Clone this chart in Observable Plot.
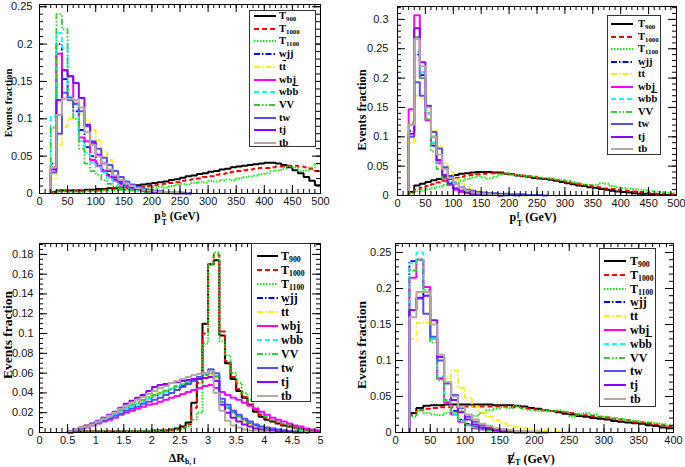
<!DOCTYPE html>
<html>
<head>
<meta charset="utf-8">
<script src="https://cdn.jsdelivr.net/npm/d3@7"></script>
<script src="https://cdn.jsdelivr.net/npm/@observablehq/plot@0.6"></script>
<style>
html,body{margin:0;padding:0;background:#fff;}
#root{position:relative;width:685px;height:467px;overflow:hidden;font-family:"Liberation Serif","Times New Roman",serif;color:#000;}
.lg{position:absolute;background:#fff;border:1px solid #333;box-sizing:border-box;}
.lg .row{position:absolute;left:0;right:0;height:14px;}
.lg .row svg{position:absolute;top:0;}
.lg .row span.t{position:absolute;top:0;line-height:14px;font-weight:bold;white-space:nowrap;}
sub{font-size:65%;vertical-align:-0.3em;line-height:0;}
.ov{text-decoration:overline;}
.yt{position:absolute;font-weight:bold;white-space:nowrap;transform:translate(-50%,-50%) rotate(-90deg);}
.xt{position:absolute;font-weight:bold;white-space:nowrap;transform:translate(-50%,-50%);line-height:1;}
.ss{display:inline-flex;flex-direction:column;font-size:65%;line-height:1;vertical-align:0.35em;margin-left:1px;}
.slash{position:relative;display:inline-block;}
.slash i{position:absolute;left:45%;top:-1px;width:1.4px;height:1.1em;background:#000;transform:rotate(22deg);}
</style>
</head>
<body>
<div id="root"></div>
<script>
// ---------------- series (legend order) ----------------
const names = ["T900","T1000","T1100","wjj","tt","wbj","wbb","VV","tw","tj","tb"];
const legendLabels = ["T<sub>900</sub>","T<sub>1000</sub>","T<sub>1100</sub>","wjj","t<span class='ov'>t</span>","wbj","wb<span class='ov'>b</span>","VV","tw","tj","tb"];

// ---------------- panel 1 : pT of b (start 20 GeV, bin 10 GeV) ----------------
const p1Start = 20, p1Bin = 10;
const p1_T900 = [0.002,0.004,0.004,0.004,0.004,0.004,0.005,0.005,0.006,0.006,0.007,0.007,0.008,0.009,0.010,0.011,0.012,0.013,0.014,0.015,0.016,0.018,0.019,0.021,0.023,0.024,0.026,0.027,0.029,0.030,0.032,0.033,0.035,0.036,0.037,0.038,0.039,0.040,0.041,0.041,0.040,0.038,0.035,0.031,0.027,0.022,0.017,0.011];
const p1_T1000 = [0.002,0.003,0.003,0.003,0.003,0.003,0.004,0.004,0.004,0.005,0.005,0.006,0.006,0.007,0.008,0.008,0.009,0.010,0.011,0.012,0.013,0.014,0.015,0.017,0.018,0.019,0.020,0.022,0.023,0.025,0.026,0.027,0.029,0.030,0.031,0.032,0.033,0.034,0.034,0.035,0.036,0.036,0.037,0.037,0.036,0.035,0.033,0.030];
const p1_T1100 = [0.001,0.003,0.003,0.002,0.003,0.002,0.003,0.003,0.003,0.004,0.004,0.004,0.005,0.005,0.006,0.006,0.006,0.007,0.008,0.009,0.008,0.010,0.012,0.013,0.012,0.014,0.016,0.015,0.017,0.016,0.018,0.019,0.018,0.020,0.022,0.023,0.024,0.026,0.027,0.030,0.031,0.033,0.036,0.035,0.030,0.031,0.035,0.040];
const p1_wjj = [0.040,0.200,0.153,0.128,0.110,0.085,0.062,0.050,0.040,0.032,0.025,0.019,0.014,0.010,0.008,0.006,0.004,0.003,0.002,0.002,0.001,0.001,0.001,0.001,0];
const p1_tt = [0.020,0.065,0.089,0.100,0.101,0.106,0.098,0.085,0.071,0.056,0.045,0.031,0.022,0.015,0.010,0.007,0.005,0.004,0.003,0.002,0.002,0.001,0.001,0.001,0];
const p1_wbj = [0.035,0.187,0.165,0.157,0.120,0.075,0.070,0.045,0.037,0.030,0.022,0.017,0.012,0.009,0.006,0.005,0.004,0.003,0.002,0.002,0.001,0.001,0.001,0];
const p1_wbb = [0.103,0.215,0.195,0.130,0.120,0.070,0.055,0.042,0.035,0.028,0.021,0.016,0.012,0.009,0.006,0.005,0.004,0.003,0.002,0.002,0.001,0.001,0.001,0];
const p1_VV = [0.088,0.240,0.220,0.125,0.100,0.060,0.040,0.030,0.025,0.018,0.013,0.010,0.007,0.005,0.004,0.003,0.002,0.002,0.001,0.001,0.001,0];
const p1_tw = [0.028,0.080,0.135,0.125,0.120,0.110,0.090,0.070,0.060,0.048,0.038,0.030,0.022,0.016,0.012,0.009,0.006,0.005,0.004,0.003,0.002,0.001,0.001,0.001,0];
const p1_tj = [0.032,0.125,0.165,0.157,0.148,0.128,0.092,0.068,0.052,0.040,0.030,0.022,0.016,0.012,0.008,0.006,0.004,0.003,0.002,0.002,0.001,0.001,0];
const p1_tb = [0.035,0.105,0.127,0.127,0.125,0.115,0.082,0.065,0.050,0.040,0.032,0.024,0.018,0.013,0.010,0.007,0.005,0.004,0.003,0.002,0.002,0.001,0.001,0];
const p1XTicks = [0,50,100,150,200,250,300,350,400,450,500];
const p1XLabels = ["0","50","100","150","200","250","300","350","400","450","500"];
const p1YTicks = [0,0.05,0.1,0.15,0.2,0.25];
const p1YLabels = ["0","0.05","0.1","0.15","0.2","0.25"];

// ---------------- panel 2 : pT of lepton ----------------
const p2Start = 20, p2Bin = 10;
const p2_T900 = [0.006,0.017,0.020,0.023,0.026,0.028,0.031,0.033,0.035,0.037,0.038,0.039,0.040,0.040,0.040,0.039,0.039,0.037,0.036,0.034,0.033,0.032,0.030,0.029,0.028,0.027,0.025,0.023,0.021,0.019,0.017,0.016,0.014,0.013,0.011,0.010,0.008,0.007,0.006,0.005,0.004,0.003,0.003,0.002,0.002,0.001,0.001,0.001];
const p2_T1000 = [0.004,0.010,0.013,0.016,0.019,0.022,0.025,0.028,0.030,0.032,0.034,0.035,0.036,0.037,0.038,0.038,0.038,0.037,0.036,0.035,0.034,0.033,0.032,0.030,0.029,0.028,0.026,0.025,0.023,0.021,0.020,0.018,0.017,0.015,0.014,0.012,0.011,0.010,0.009,0.008,0.007,0.006,0.005,0.004,0.003,0.003,0.002,0.002];
const p2_T1100 = [0.004,0.007,0.009,0.011,0.013,0.015,0.018,0.020,0.023,0.025,0.028,0.031,0.033,0.031,0.029,0.032,0.035,0.038,0.036,0.035,0.034,0.033,0.032,0.031,0.030,0.029,0.027,0.026,0.025,0.023,0.021,0.019,0.018,0.018,0.021,0.020,0.016,0.014,0.013,0.012,0.011,0.010,0.009,0.008,0.007,0.006,0.005,0.004];
const p2_wjj = [0.110,0.240,0.205,0.140,0.085,0.060,0.035,0.022,0.013,0.008,0.005,0.004,0.003,0.002,0.002,0.001,0.001,0.001,0.001,0];
const p2_tt = [0.090,0.170,0.165,0.140,0.110,0.085,0.055,0.040,0.028,0.020,0.014,0.010,0.007,0.005,0.004,0.003,0.002,0.002,0.001,0.001,0];
const p2_wbj = [0.147,0.307,0.200,0.128,0.090,0.055,0.030,0.018,0.010,0.006,0.004,0.003,0.002,0.001,0.001,0.001,0];
const p2_wbb = [0.115,0.245,0.210,0.140,0.090,0.055,0.035,0.022,0.014,0.009,0.006,0.004,0.003,0.002,0.001,0.001,0];
const p2_VV = [0.123,0.270,0.200,0.130,0.075,0.045,0.028,0.018,0.011,0.007,0.005,0.003,0.002,0.002,0.001,0.001,0];
const p2_tw = [0.100,0.193,0.170,0.153,0.108,0.080,0.048,0.032,0.020,0.014,0.010,0.008,0.006,0.005,0.004,0.004,0.003,0.003,0.002,0.002,0.002,0.001,0.001,0.001,0];
const p2_tj = [0.105,0.285,0.227,0.152,0.100,0.060,0.035,0.020,0.012,0.008,0.005,0.003,0.002,0.002,0.001,0.001,0];
const p2_tb = [0.120,0.266,0.220,0.150,0.100,0.070,0.045,0.030,0.020,0.013,0.008,0.005,0.004,0.003,0.002,0.001,0.001,0];
const p2XTicks = [0,50,100,150,200,250,300,350,400,450,500];
const p2XLabels = ["0","50","100","150","200","250","300","350","400","450","500"];
const p2YTicks = [0,0.05,0.1,0.15,0.2,0.25,0.3];
const p2YLabels = ["0","0.05","0.1","0.15","0.2","0.25","0.3"];

// ---------------- panel 3 : Delta R (b, l) (start 0.5, bin 0.1) ----------------
const p3Start = 0.5, p3Bin = 0.1;
const p3_T900 = [0.000,0.001,0.001,0.001,0.001,0.001,0.001,0.001,0.001,0.001,0.001,0.001,0.001,0.001,0.001,0.002,0.002,0.002,0.003,0.004,0.006,0.010,0.030,0.055,0.110,0.170,0.174,0.098,0.070,0.054,0.042,0.035,0.028,0.021,0.016,0.013,0.011,0.009,0.007,0.006,0.005,0.004,0.003,0.002,0.001];
const p3_T1000 = [0.000,0.001,0.001,0.001,0.001,0.001,0.001,0.001,0.001,0.001,0.001,0.001,0.001,0.001,0.001,0.001,0.002,0.002,0.002,0.003,0.005,0.008,0.025,0.050,0.100,0.170,0.180,0.102,0.072,0.056,0.044,0.036,0.029,0.023,0.018,0.015,0.012,0.010,0.008,0.007,0.005,0.004,0.003,0.002,0.002];
const p3_T1100 = [0.000,0.001,0.001,0.001,0.001,0.001,0.001,0.001,0.001,0.001,0.001,0.001,0.001,0.001,0.002,0.002,0.002,0.002,0.003,0.003,0.004,0.006,0.013,0.020,0.090,0.170,0.182,0.092,0.078,0.060,0.050,0.040,0.033,0.025,0.020,0.016,0.013,0.011,0.009,0.007,0.006,0.004,0.003,0.002,0.002];
const p3_wjj = [0.001,0.003,0.004,0.006,0.008,0.011,0.013,0.016,0.019,0.022,0.025,0.027,0.030,0.032,0.035,0.037,0.040,0.042,0.044,0.046,0.048,0.050,0.052,0.055,0.058,0.060,0.056,0.031,0.025,0.020,0.016,0.012,0.009,0.007,0.005,0.004,0.003,0.002,0.002,0.001,0.001,0.001,0];
const p3_tt = [0.001,0.003,0.005,0.007,0.009,0.012,0.014,0.017,0.020,0.023,0.026,0.028,0.031,0.033,0.036,0.039,0.041,0.043,0.045,0.047,0.049,0.051,0.053,0.055,0.057,0.058,0.055,0.030,0.024,0.019,0.015,0.011,0.008,0.006,0.005,0.004,0.003,0.002,0.001,0.001,0.001,0];
const p3_wbj = [0.001,0.002,0.004,0.005,0.007,0.009,0.011,0.013,0.015,0.018,0.020,0.022,0.024,0.026,0.028,0.029,0.031,0.033,0.035,0.037,0.039,0.041,0.043,0.045,0.047,0.048,0.045,0.041,0.038,0.035,0.033,0.030,0.027,0.024,0.021,0.018,0.015,0.013,0.011,0.009,0.007,0.006,0.004,0.003,0.002];
const p3_wbb = [0.001,0.003,0.004,0.006,0.008,0.010,0.013,0.015,0.018,0.021,0.024,0.026,0.029,0.031,0.034,0.037,0.039,0.041,0.044,0.046,0.049,0.051,0.053,0.056,0.059,0.062,0.058,0.032,0.026,0.021,0.017,0.013,0.010,0.008,0.006,0.005,0.004,0.003,0.002,0.002,0.001,0.001,0];
const p3_VV = [0.001,0.003,0.005,0.007,0.009,0.012,0.015,0.017,0.020,0.023,0.026,0.028,0.031,0.033,0.036,0.038,0.040,0.042,0.044,0.047,0.049,0.051,0.053,0.056,0.058,0.060,0.057,0.031,0.025,0.020,0.016,0.012,0.010,0.008,0.006,0.004,0.003,0.002,0.002,0.001,0.001,0.001,0];
const p3_tw = [0.001,0.002,0.004,0.006,0.008,0.010,0.012,0.014,0.017,0.019,0.022,0.024,0.026,0.029,0.031,0.033,0.035,0.038,0.040,0.043,0.046,0.049,0.052,0.056,0.060,0.064,0.060,0.034,0.028,0.022,0.018,0.014,0.011,0.008,0.006,0.005,0.004,0.003,0.002,0.001,0.001,0];
const p3_tj = [0.001,0.003,0.005,0.007,0.009,0.012,0.015,0.018,0.021,0.025,0.029,0.032,0.035,0.038,0.042,0.046,0.048,0.049,0.050,0.051,0.052,0.053,0.054,0.054,0.055,0.056,0.052,0.028,0.020,0.015,0.011,0.008,0.006,0.004,0.003,0.002,0.002,0.001,0.001,0.001,0];
const p3_tb = [0.001,0.003,0.005,0.006,0.008,0.011,0.014,0.017,0.020,0.024,0.027,0.030,0.033,0.036,0.039,0.042,0.045,0.047,0.050,0.052,0.054,0.056,0.058,0.059,0.060,0.062,0.040,0.022,0.012,0.007,0.005,0.003,0.002,0.002,0.001,0.001,0];
const p3XTicks = [0,0.5,1,1.5,2,2.5,3,3.5,4,4.5,5];
const p3XLabels = ["0","0.5","1","1.5","2","2.5","3","3.5","4","4.5","5"];
const p3YTicks = [0,0.02,0.04,0.06,0.08,0.1,0.12,0.14,0.16,0.18];
const p3YLabels = ["0","0.02","0.04","0.06","0.08","0.1","0.12","0.14","0.16","0.18"];

// ---------------- panel 4 : missing ET (start 20 GeV, bin 10 GeV) ----------------
const p4Start = 20, p4Bin = 10;
const p4_T900 = [0.027,0.034,0.037,0.038,0.038,0.039,0.039,0.039,0.039,0.039,0.039,0.039,0.038,0.038,0.038,0.037,0.036,0.034,0.033,0.031,0.030,0.028,0.026,0.025,0.023,0.022,0.020,0.019,0.018,0.016,0.015,0.014,0.013,0.012,0.010,0.009,0.007,0.006];
const p4_T1000 = [0.024,0.031,0.033,0.034,0.035,0.035,0.035,0.035,0.036,0.036,0.036,0.036,0.036,0.036,0.035,0.035,0.034,0.033,0.032,0.031,0.030,0.029,0.028,0.027,0.025,0.024,0.023,0.022,0.021,0.019,0.018,0.017,0.015,0.014,0.013,0.011,0.010,0.008];
const p4_T1100 = [0.022,0.031,0.027,0.025,0.024,0.027,0.029,0.031,0.024,0.023,0.027,0.031,0.033,0.035,0.034,0.037,0.033,0.031,0.030,0.031,0.030,0.031,0.029,0.022,0.025,0.027,0.025,0.022,0.022,0.020,0.019,0.017,0.016,0.015,0.014,0.013,0.012,0.010];
const p4_wjj = [0.238,0.240,0.190,0.130,0.075,0.045,0.030,0.018,0.012,0.008,0.006,0.004,0.003,0.002,0.002,0.001,0.001,0.001,0];
const p4_tt = [0.130,0.152,0.153,0.130,0.105,0.075,0.086,0.062,0.048,0.036,0.028,0.022,0.017,0.013,0.010,0.008,0.006,0.005,0.004,0.003,0.002,0.002,0.001,0.001,0];
const p4_wbj = [0.215,0.240,0.202,0.130,0.075,0.042,0.025,0.015,0.010,0.006,0.004,0.003,0.002,0.001,0.001,0];
const p4_wbb = [0.235,0.250,0.195,0.130,0.078,0.044,0.026,0.016,0.010,0.007,0.004,0.003,0.002,0.001,0.001,0];
const p4_VV = [0.225,0.240,0.198,0.125,0.072,0.045,0.028,0.017,0.011,0.007,0.005,0.003,0.002,0.001,0.001,0];
const p4_tw = [0.170,0.186,0.165,0.133,0.100,0.068,0.052,0.034,0.022,0.015,0.010,0.007,0.005,0.004,0.003,0.002,0.002,0.001,0.001,0];
const p4_tj = [0.170,0.187,0.190,0.156,0.105,0.070,0.045,0.028,0.018,0.011,0.007,0.005,0.003,0.002,0.001,0.001,0];
const p4_tb = [0.160,0.195,0.195,0.150,0.108,0.070,0.050,0.035,0.025,0.018,0.012,0.009,0.006,0.004,0.003,0.002,0.002,0.001,0.001,0];
const p4XTicks = [0,50,100,150,200,250,300,350,400];
const p4XLabels = ["0","50","100","150","200","250","300","350","400"];
const p4YTicks = [0,0.05,0.1,0.15,0.2,0.25];
const p4YLabels = ["0","0.05","0.1","0.15","0.2","0.25"];

// ---------------- styles ----------------
const colors = ["#000000","#ff0000","#00ee00","#0000ff","#ffee00","#ff00ff","#00ffff","#33cc33","#5050f0","#8f00ff","#b4aaa0"];
const dashes = ["none","5,3","1.5,1.5","6,2,1.5,2","6,2,1.5,2","none","5,3","6,2,1.5,2,1.5,2","none","none","none"];
const widths = [2,2,1.8,1.8,1.8,2,1.8,1.8,2,2,2];

const W = 685, H = 467;
const root = document.getElementById("root");

function histRows(arr, start, bin) {
  const rows = [{x: start, y: 0}];
  arr.forEach((v, i) => rows.push({x: start + i * bin, y: v}));
  rows.push({x: start + arr.length * bin, y: arr[arr.length - 1]});
  return rows;
}

function drawPanel(p) {
  const fw = p.fr - p.fl, fh = p.fb - p.ft;
  const marks = [];
  p.series.forEach((arr, k) => {
    marks.push(Plot.line(histRows(arr, p.start, p.bin), {
      x: "x", y: "y", curve: "step-after",
      stroke: colors[k], strokeWidth: widths[k],
      strokeDasharray: dashes[k] === "none" ? null : dashes[k],
      strokeLinecap: "butt", strokeLinejoin: "miter"
    }));
  });
  const maj = 8, mn = 4;
  marks.push(Plot.tickX(p.xTicks, {x: d => d, insetTop: fh - maj, stroke: "#000"}));
  marks.push(Plot.tickX(p.xTicks, {x: d => d, insetBottom: fh - maj, stroke: "#000"}));
  marks.push(Plot.tickX(p.xMinor, {x: d => d, insetTop: fh - mn, stroke: "#000"}));
  marks.push(Plot.tickX(p.xMinor, {x: d => d, insetBottom: fh - mn, stroke: "#000"}));
  marks.push(Plot.tickY(p.yTicks, {y: d => d, insetRight: fw - maj, stroke: "#000"}));
  marks.push(Plot.tickY(p.yTicks, {y: d => d, insetLeft: fw - maj, stroke: "#000"}));
  marks.push(Plot.tickY(p.yMinor, {y: d => d, insetRight: fw - mn, stroke: "#000"}));
  marks.push(Plot.tickY(p.yMinor, {y: d => d, insetLeft: fw - mn, stroke: "#000"}));
  marks.push(Plot.frame({stroke: "#000", strokeWidth: 1}));
  marks.push(Plot.axisX(p.xTicks, {tickSize: 0, tickPadding: 4, label: null,
    tickFormat: d => p.xLabels[p.xTicks.indexOf(d)]}));
  marks.push(Plot.axisY(p.yTicks, {tickSize: 0, tickPadding: p.yPad, label: null,
    tickFormat: d => p.yLabels[p.yTicks.indexOf(d)]}));
  const svg = Plot.plot({
    width: W, height: H,
    marginLeft: p.fl, marginRight: W - p.fr, marginTop: p.ft, marginBottom: H - p.fb,
    x: {domain: p.xDomain},
    y: {domain: p.yDomain},
    style: {background: "none", fontFamily: "'Liberation Sans', Arial, sans-serif", fontSize: "11px", color: "#111", overflow: "visible"},
    marks
  });
  svg.style.position = "absolute";
  svg.style.left = "0px";
  svg.style.top = "0px";
  root.appendChild(svg);

  // legend
  const lg = document.createElement("div");
  lg.className = "lg";
  Object.assign(lg.style, {left: p.lg.x + "px", top: p.lg.y + "px", width: p.lg.w + "px", height: p.lg.h + "px"});
  names.forEach((n, k) => {
    const row = document.createElement("div");
    row.className = "row";
    row.style.top = (p.lg.first + k * p.lg.step - 7) + "px";
    const sw = `<svg width="${p.lg.sw + 2}" height="14" style="left:${p.lg.sx}px"><line x1="0" x2="${p.lg.sw}" y1="7" y2="7" stroke="${colors[k]}" stroke-width="${widths[k]}" ${dashes[k] === "none" ? "" : `stroke-dasharray="${dashes[k]}"`}/></svg>`;
    row.innerHTML = sw + `<span class="t" style="left:${p.lg.tx}px;font-size:${p.lg.fs}px">${legendLabels[k]}</span>`;
    lg.appendChild(row);
  });
  root.appendChild(lg);

  // axis titles
  const yt = document.createElement("div");
  yt.className = "yt";
  Object.assign(yt.style, {left: p.yt.x + "px", top: p.yt.y + "px", fontSize: p.yt.fs + "px"});
  yt.textContent = "Events fraction";
  root.appendChild(yt);
  const xt = document.createElement("div");
  xt.className = "xt";
  Object.assign(xt.style, {left: p.xt.x + "px", top: p.xt.y + "px", fontSize: p.xt.fs + "px"});
  xt.innerHTML = p.xt.html;
  root.appendChild(xt);
}

const panels = [
  {
    start: p1Start, bin: p1Bin,
    series: [p1_T900,p1_T1000,p1_T1100,p1_wjj,p1_tt,p1_wbj,p1_wbb,p1_VV,p1_tw,p1_tj,p1_tb],
    fl: 39, fr: 320, ft: 4, fb: 193, xDomain: [0, 500], yDomain: [0, 0.253],
    xTicks: p1XTicks, xLabels: p1XLabels, yTicks: p1YTicks, yLabels: p1YLabels,
    xMinor: d3.range(0, 501, 10), yMinor: d3.range(0, 0.2531, 0.01), yPad: 7,
    lg: {x: 249, y: 10, w: 67, h: 137, first: 5, step: 12.7, sx: 4, sw: 22, tx: 29, fs: 10.5},
    yt: {x: 8, y: 103, fs: 10.5},
    xt: {x: 177, y: 219, fs: 11.5, html: "p<span class='ss'><span>b</span><span>T</span></span> (GeV)"}
  },
  {
    start: p2Start, bin: p2Bin,
    series: [p2_T900,p2_T1000,p2_T1100,p2_wjj,p2_tt,p2_wbj,p2_wbb,p2_VV,p2_tw,p2_tj,p2_tb],
    fl: 397, fr: 676, ft: 6, fb: 195, xDomain: [0, 500], yDomain: [0, 0.322],
    xTicks: p2XTicks, xLabels: p2XLabels, yTicks: p2YTicks, yLabels: p2YLabels,
    xMinor: d3.range(0, 501, 10), yMinor: d3.range(0, 0.3221, 0.01), yPad: 9,
    lg: {x: 607, y: 15, w: 54, h: 140, first: 8, step: 12.5, sx: 3, sw: 22, tx: 30, fs: 10.5},
    yt: {x: 362, y: 110, fs: 12.5},
    xt: {x: 533, y: 219, fs: 12, html: "p<span class='ss'><span>l</span><span>T</span></span> (GeV)"}
  },
  {
    start: p3Start, bin: p3Bin,
    series: [p3_T900,p3_T1000,p3_T1100,p3_wjj,p3_tt,p3_wbj,p3_wbb,p3_VV,p3_tw,p3_tj,p3_tb],
    fl: 39, fr: 320, ft: 243, fb: 432, xDomain: [0, 5], yDomain: [0, 0.191],
    xTicks: p3XTicks, xLabels: p3XLabels, yTicks: p3YTicks, yLabels: p3YLabels,
    xMinor: d3.range(0, 5.001, 0.1), yMinor: d3.range(0, 0.1911, 0.005), yPad: 6,
    lg: {x: 251, y: 243, w: 60, h: 159, first: 12, step: 14, sx: 5, sw: 21, tx: 29, fs: 12},
    yt: {x: 8, y: 335, fs: 13.5},
    xt: {x: 182, y: 458, fs: 12, html: "&Delta;R<sub>b, l</sub>"}
  },
  {
    start: p4Start, bin: p4Bin,
    series: [p4_T900,p4_T1000,p4_T1100,p4_wjj,p4_tt,p4_wbj,p4_wbb,p4_VV,p4_tw,p4_tj,p4_tb],
    fl: 395, fr: 673, ft: 243, fb: 432, xDomain: [0, 400], yDomain: [0, 0.2625],
    xTicks: p4XTicks, xLabels: p4XLabels, yTicks: p4YTicks, yLabels: p4YLabels,
    xMinor: d3.range(0, 401, 10), yMinor: d3.range(0, 0.2626, 0.01), yPad: 4,
    lg: {x: 599, y: 248, w: 57, h: 159, first: 12, step: 13.8, sx: 4, sw: 22, tx: 30, fs: 12},
    yt: {x: 362, y: 345, fs: 13.5},
    xt: {x: 531, y: 459, fs: 12, html: "<span class='slash'>E<i></i></span><sub>T</sub> (GeV)"}
  }
];

panels.forEach(drawPanel);
</script>
</body>
</html>
